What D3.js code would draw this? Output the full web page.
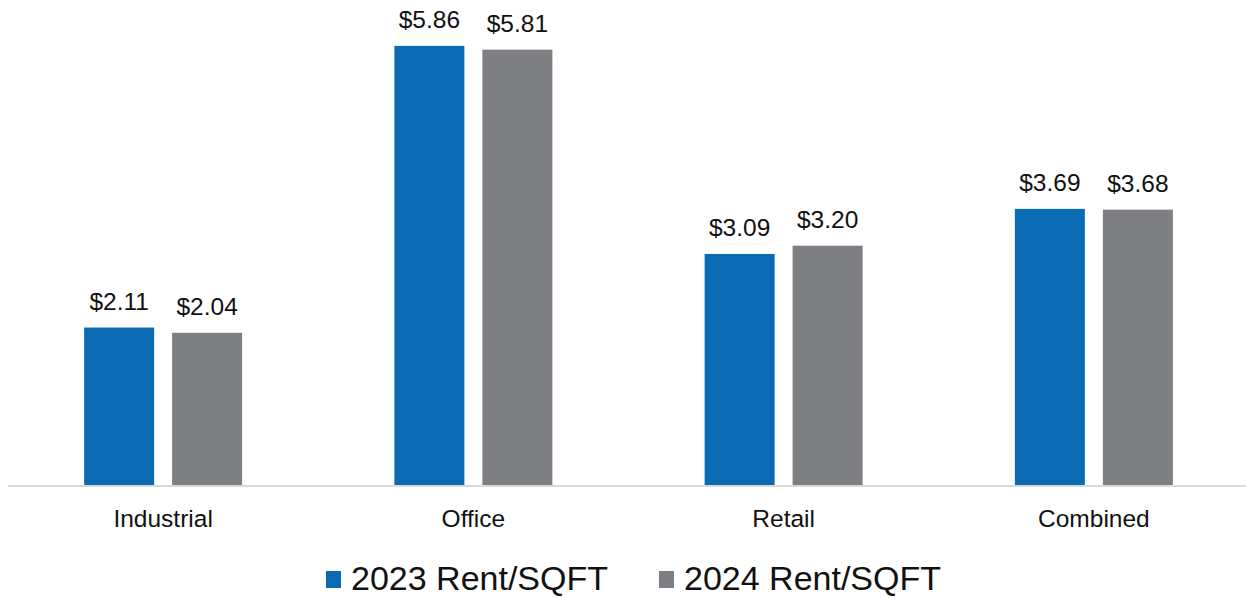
<!DOCTYPE html>
<html><head><meta charset="utf-8">
<script src="https://cdn.jsdelivr.net/npm/d3@7"></script>
<style>body{margin:0;background:#fff}svg{display:block}text{font-family:"Liberation Sans",Arial,sans-serif;fill:#111}</style>
</head><body><svg id="c" width="1246" height="598"></svg>
<script>
const categories = ["Industrial","Office","Retail","Combined"];
const seriesNames = ["2023 Rent/SQFT","2024 Rent/SQFT"];
const rent2023 = [2.11,5.86,3.09,3.69];
const rent2024 = [2.04,5.81,3.20,3.68];
const colors = ["#0a6bb4","#7e7f83"];

const svg = d3.select("#c");
const baseY = 486;
const x = d3.scaleBand().domain(categories).range([8,1249]).paddingInner(0).paddingOuter(0);
const inner = d3.scaleBand().domain([0,1]).range([x.bandwidth()/2-79, x.bandwidth()/2+79]).paddingInner(18/88).paddingOuter(0);
const y = d3.scaleLinear().domain([0,6]).range([baseY, baseY-6*75.1]);
const series = [rent2023, rent2024];

const g = svg.append("g");
categories.forEach((c,i)=>{
  series.forEach((s,j)=>{
    const bx = x(c)+inner(j);
    g.append("rect").attr("x",bx).attr("y",y(s[i])).attr("width",inner.bandwidth()).attr("height",y(0)-y(s[i])).attr("fill",colors[j]);
    g.append("text").attr("x",bx+inner.bandwidth()/2).attr("y",y(s[i])-18).attr("text-anchor","middle").attr("font-size",24.5).text("$"+s[i].toFixed(2));
  });
});
// axis
const axis = d3.axisBottom(x).tickSize(0).tickPadding(0);
const ax = svg.append("g").attr("transform",`translate(0,${baseY})`).call(axis);
ax.select(".domain").attr("stroke","#d9d9d9").attr("stroke-width",2).attr("d","M8,0H1246");
ax.selectAll(".tick text").attr("font-size",24.5).attr("dy",0).attr("y",41).attr("fill","#111").style("font-family",'"Liberation Sans",Arial,sans-serif');

// legend
const legX = [326,659];
seriesNames.forEach((n,j)=>{
  svg.append("rect").attr("x",legX[j]).attr("y",571).attr("width",15).attr("height",17).attr("fill",colors[j]);
  svg.append("text").attr("x",legX[j]+25).attr("y",590).attr("font-size",34).text(n);
});
</script></body></html>
